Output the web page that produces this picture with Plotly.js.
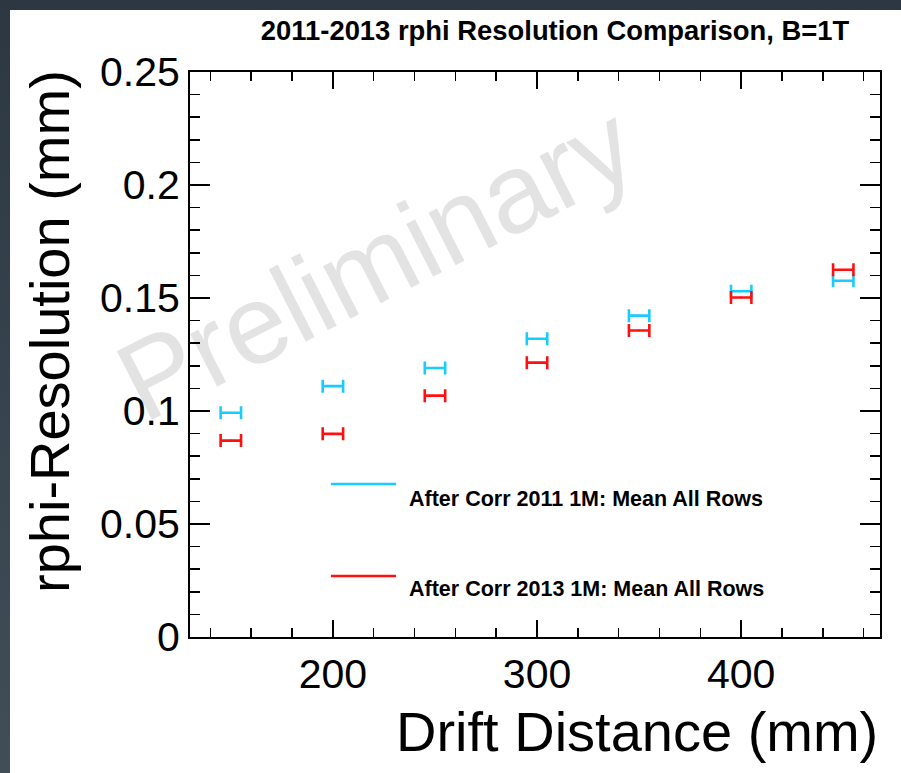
<!DOCTYPE html>
<html><head><meta charset="utf-8">
<script src="https://cdn.plot.ly/plotly-3.0.1.min.js"></script>
<style>
html,body{margin:0;padding:0;width:901px;height:773px;overflow:hidden;background:linear-gradient(#2c3742,#414e59);}
#chart{position:absolute;left:10px;top:10px;width:891px;height:763px;background:#fff;}
</style></head><body><div id="chart"></div>
<script>
// ---- data ----
const driftDistance = [150, 200, 250, 300, 350, 400, 450];
const res2011 = [0.0992, 0.1110, 0.1190, 0.1320, 0.1422, 0.1530, 0.1576];
const res2013 = [0.0869, 0.0899, 0.1068, 0.1214, 0.1356, 0.1502, 0.1625];
const xErrHalf = [5, 5, 5, 5, 5, 5, 5];
const seriesNames = ['After Corr 2011 1M: Mean All Rows', 'After Corr 2013 1M: Mean All Rows'];
const seriesColors = ['#19ccff', '#ff1010'];
const titleText = '2011-2013 rphi Resolution Comparison, B=1T';
const xTitle = 'Drift Distance (mm)';
const yTitle = 'rphi-Resolution (mm)';
const watermark = 'Preliminary';

const F = 'Liberation Sans, Arial, Helvetica, sans-serif';

function trace(y, i) {
  return {
    type: 'scatter', mode: 'markers', name: seriesNames[i],
    x: driftDistance, y: y,
    marker: {size: 2, color: seriesColors[i]},
    error_x: {type: 'data', array: xErrHalf, visible: true, color: seriesColors[i], thickness: 2.6, width: 6.5},
    hoverinfo: 'x+y'
  };
}
const data = [trace(res2011, 0), trace(res2013, 1)];

const axisCommon = {
  showline: true, linewidth: 2, linecolor: '#000', mirror: 'ticks',
  ticks: 'inside', tickwidth: 1.5, tickcolor: '#000',
  showgrid: false, zeroline: false,
  tickfont: {family: F, size: 41, color: '#000'}
};

const layout = {
  width: 891, height: 763,
  margin: {l: 180, r: 21, t: 62, b: 136},
  paper_bgcolor: '#fff', plot_bgcolor: '#fff',
  showlegend: false,
  title: {text: titleText, font: {family: F, size: 27.4, weight: 'bold', color: '#000'},
          x: 0.6117, xref: 'container', xanchor: 'center', y: 0.9738, yref: 'container', yanchor: 'middle'},
  xaxis: Object.assign({}, axisCommon, {
    range: [130, 468], tickmode: 'linear', tick0: 0, dtick: 100, ticklen: 17,
    minor: {dtick: 20, tick0: 0, ticks: 'inside', ticklen: 9, tickwidth: 1.5, tickcolor: '#000', showgrid: false}
  }),
  yaxis: Object.assign({}, axisCommon, {
    range: [0, 0.25], tickmode: 'linear', tick0: 0, dtick: 0.05, ticklen: 20,
    minor: {dtick: 0.01, tick0: 0, ticks: 'inside', ticklen: 10, tickwidth: 1.5, tickcolor: '#000', showgrid: false}
  }),
  shapes: [
    {type: 'rect', xref: 'paper', yref: 'paper', x0: 0.162, x1: 0.362, y0: 0.58, y1: 0.78,
     line: {width: 0}, fillcolor: 'rgba(0,0,0,0)', layer: 'below',
     label: {text: watermark, textangle: -27, textposition: 'middle center',
             font: {family: F, size: 112, color: '#e3e3e3'}}},
    {type: 'line', xref: 'paper', yref: 'paper', x0: 0.2043, x1: 0.2986, y0: 0.2708, y1: 0.2708,
     line: {color: seriesColors[0], width: 2.5}},
    {type: 'line', xref: 'paper', yref: 'paper', x0: 0.2043, x1: 0.2986, y0: 0.108, y1: 0.108,
     line: {color: seriesColors[1], width: 2.5}}
  ],
  annotations: [
    {text: seriesNames[0], xref: 'paper', yref: 'paper', x: 0.3145, y: 0.2451, xanchor: 'left', yanchor: 'middle',
     showarrow: false, font: {family: F, size: 21.5, weight: 'bold', color: '#000'}},
    {text: seriesNames[1], xref: 'paper', yref: 'paper', x: 0.3145, y: 0.0841, xanchor: 'left', yanchor: 'middle',
     showarrow: false, font: {family: F, size: 21.5, weight: 'bold', color: '#000'}},
    {text: xTitle, xref: 'paper', yref: 'paper', x: 1, y: -0.168, xanchor: 'right', yanchor: 'middle',
     showarrow: false, font: {family: F, size: 56, color: '#000'}},
    {text: yTitle, xref: 'paper', yref: 'paper', x: -0.2029, y: 0.5416, xanchor: 'center', yanchor: 'middle',
     textangle: -90, showarrow: false, font: {family: F, size: 56, color: '#000'}}
  ]
};

Plotly.newPlot('chart', data, layout, {displayModeBar: false, staticPlot: true});
</script></body></html>
